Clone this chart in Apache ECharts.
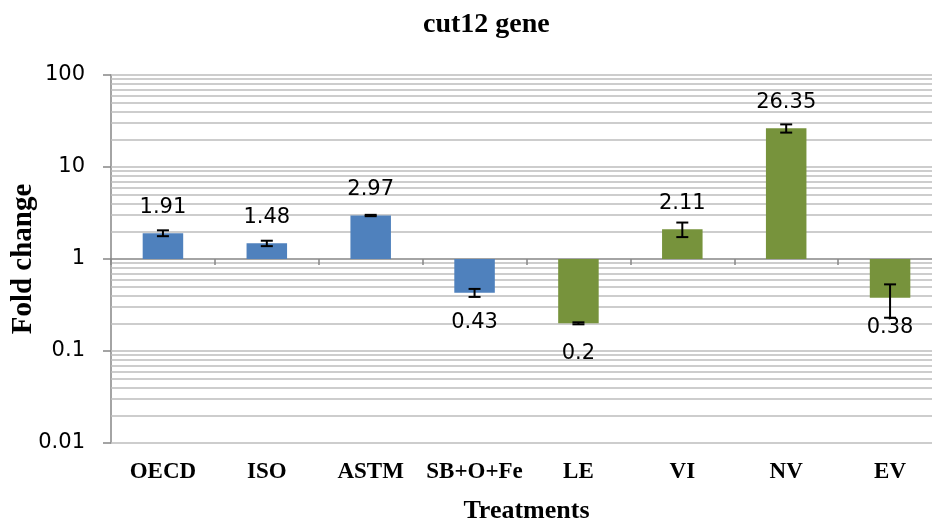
<!DOCTYPE html>
<html>
<head>
<meta charset="utf-8">
<script src="https://cdn.jsdelivr.net/npm/echarts@6/dist/echarts.min.js"></script>
<style>html,body{margin:0;padding:0;background:#fff}#c{width:932px;height:524px}</style>
</head>
<body>
<div id="c"></div>
<script>
const categories = ['OECD', 'ISO', 'ASTM', 'SB+O+Fe', 'LE', 'VI', 'NV', 'EV'];
const foldChange = [1.91, 1.48, 2.97, 0.43, 0.2, 2.11, 26.35, 0.38];
const errorSize = [0.14, 0.10, 0.05, 0.043, 0.005, 0.38, 2.7, 0.15];
const barGroup = ['lab', 'lab', 'lab', 'lab', 'field', 'field', 'field', 'field'];
const yTickValues = [0.01, 0.1, 1, 10, 100];

const groupColor = { lab: '#4f81bd', field: '#77933c' };
const gridColor = '#bcbcbc';
const axisColor = '#868686';

// log gridlines: 1..9 x each decade (major line at 1 is the category axis)
const gridLines = [];
for (let d = 0; d < yTickValues.length - 1; d++) {
  for (let m = 1; m <= 9; m++) {
    const v = +(m * yTickValues[d]).toPrecision(3);
    if (v !== 1) gridLines.push(v);
  }
}
gridLines.push(yTickValues[yTickValues.length - 1]);

const barData = categories.map((c, i) => [i, foldChange[i], errorSize[i], barGroup[i]]);

const chart = echarts.init(document.getElementById('c'), null, { renderer: 'canvas' });
chart.setOption({
  animation: false,
  title: {
    text: 'cut12 gene',
    left: 418, top: 6,
    textStyle: { fontFamily: 'Liberation Serif', fontWeight: 'bold', fontSize: 28, color: '#000' }
  },
  grid: { left: 111, right: -10, top: 75, bottom: 81, containLabel: false, outerBoundsMode: 'none' },
  xAxis: [
    {
      type: 'category', data: categories, position: 'bottom',
      axisLine: { show: false }, axisTick: { show: false }, splitLine: { show: false },
      axisLabel: { interval: 0, margin: 18, color: '#000', fontFamily: 'Liberation Serif', fontWeight: 'bold', fontSize: 23 },
      name: 'Treatments', nameLocation: 'middle', nameGap: 55, nameMoveOverlap: false,
      nameTextStyle: { fontFamily: 'Liberation Serif', fontWeight: 'bold', fontSize: 26, color: '#000' }
    },
    {
      type: 'category', data: categories, position: 'bottom', offset: -184, z: 2,
      axisLine: { show: true, lineStyle: { color: axisColor, width: 1.5 } },
      axisTick: { show: true, length: 6, lineStyle: { color: axisColor, width: 1.5 } },
      axisLabel: { show: false }, splitLine: { show: false }
    }
  ],
  yAxis: {
    type: 'log', logBase: 10, min: 0.01, max: 100,
    axisLine: { show: true, lineStyle: { color: axisColor, width: 1.5 } },
    axisTick: { show: true, length: 8, lineStyle: { color: axisColor, width: 1.5 } },
    splitLine: { show: false },
    axisLabel: { margin: 26, align: 'right', color: '#000', fontFamily: 'DejaVu Sans', fontSize: 21,
      formatter: v => String(+v.toPrecision(3)) },
    name: 'Fold change', nameLocation: 'middle', nameGap: 73, nameRotate: 90, nameMoveOverlap: false,
    nameTextStyle: { fontFamily: 'Liberation Serif', fontWeight: 'bold', fontSize: 29, color: '#000' }
  },
  series: [
    {
      type: 'line', data: [], z: 1, silent: true,
      markLine: {
        z: 1, silent: true, symbol: ['none', 'none'], label: { show: false },
        emphasis: { disabled: true },
        lineStyle: { type: 'solid', color: gridColor, width: 1.6 },
        data: gridLines.map(v => ({ yAxis: v }))
      }
    },
    {
      type: 'custom', z: 3, data: barData, encode: { x: 0, y: 1 },
      renderItem: function (params, api) {
        const idx = api.value(0), v = api.value(1);
        const base = api.coord([idx, 1]);
        const end = api.coord([idx, v]);
        const w = api.size([1, 1])[0] * 0.39;
        const top = Math.min(base[1], end[1]);
        const h = Math.abs(base[1] - end[1]);
        const grp = barData[params.dataIndex][3];
        const up = v >= 1;
        return {
          type: 'group',
          children: [
            { type: 'rect', shape: { x: base[0] - w / 2, y: top, width: w, height: h },
              style: { fill: groupColor[grp] } },
            { type: 'text', z2: 10,
              style: { text: String(v), x: end[0], y: up ? end[1] - 26 : end[1] + 30,
                align: 'center', verticalAlign: 'middle',
                font: '21px "DejaVu Sans"', fill: '#000' } }
          ]
        };
      }
    },
    {
      type: 'custom', z: 4, data: barData, encode: { x: 0, y: 1 },
      renderItem: function (params, api) {
        const idx = api.value(0), v = api.value(1), e = api.value(2);
        const hi = api.coord([idx, v + e]);
        const lo = api.coord([idx, v - e]);
        const cap = 6;
        const st = { stroke: '#000', lineWidth: 2 };
        return {
          type: 'group',
          children: [
            { type: 'line', shape: { x1: hi[0], y1: hi[1], x2: lo[0], y2: lo[1] }, style: st },
            { type: 'line', shape: { x1: hi[0] - cap, y1: hi[1], x2: hi[0] + cap, y2: hi[1] }, style: st },
            { type: 'line', shape: { x1: lo[0] - cap, y1: lo[1], x2: lo[0] + cap, y2: lo[1] }, style: st }
          ]
        };
      }
    }
  ]
});
</script>
</body>
</html>
